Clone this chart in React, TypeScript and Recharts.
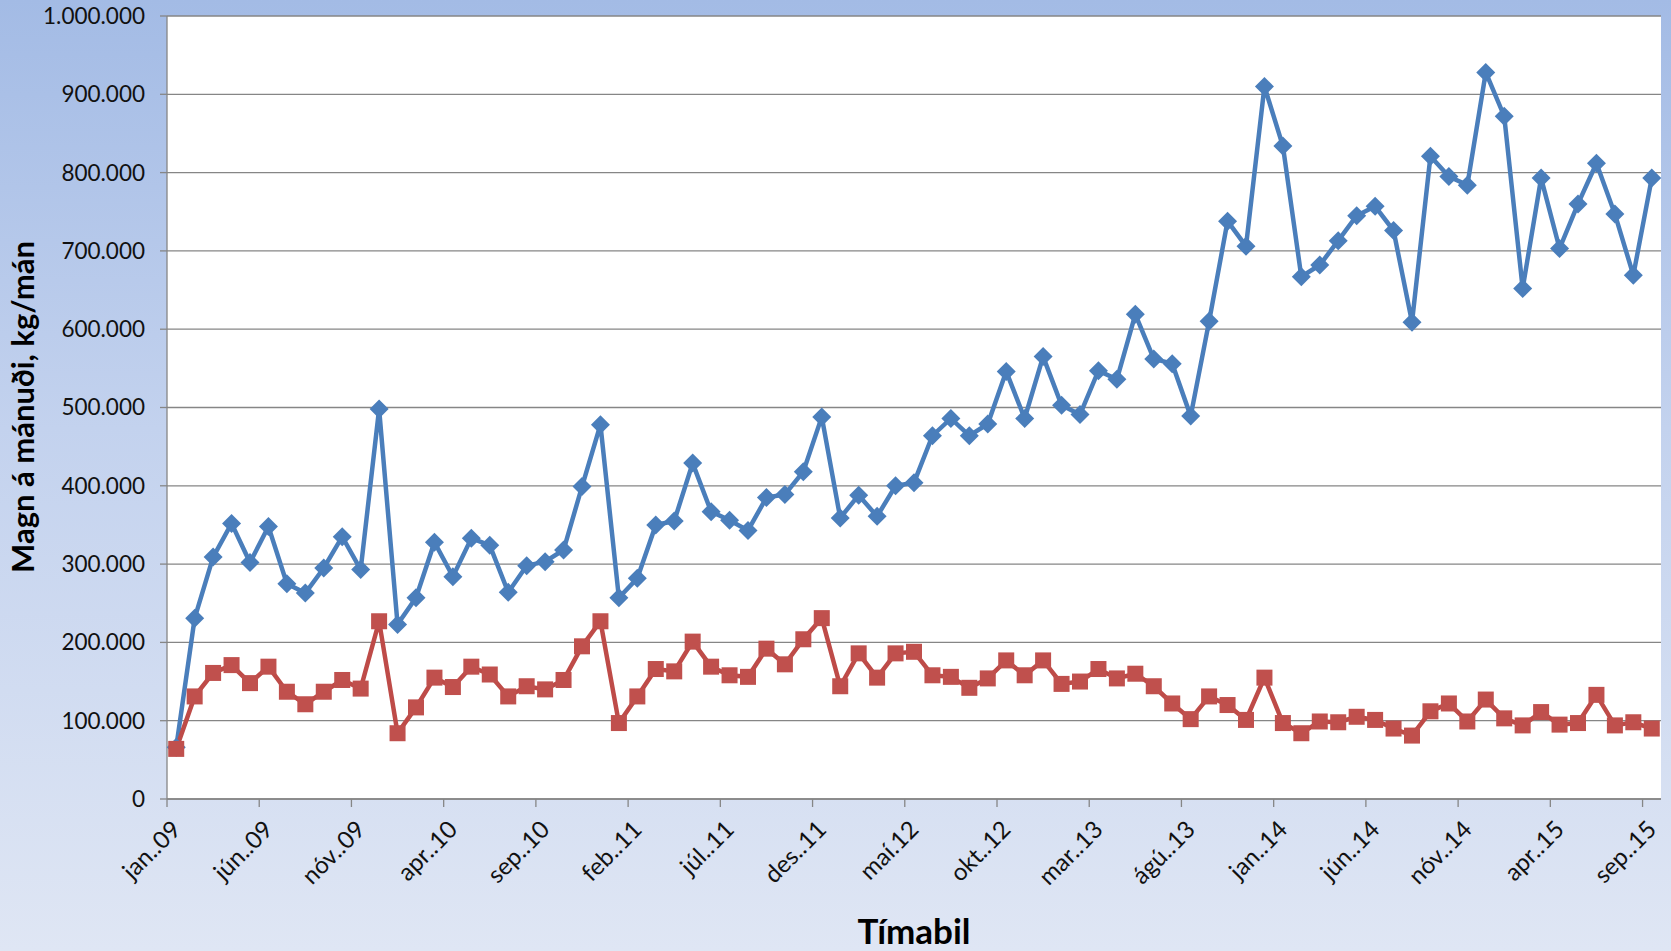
import React from 'react';
import { LineChart, Line, XAxis, YAxis, CartesianGrid, Label } from 'recharts';

const months: string[] = [
  'jan..09', 'feb..09', 'mar..09', 'apr..09', 'maí.09', 'jún..09', 'júl..09', 'ágú..09', 'sep..09', 'okt..09', 'nóv..09', 'des..09',
  'jan..10', 'feb..10', 'mar..10', 'apr..10', 'maí.10', 'jún..10', 'júl..10', 'ágú..10', 'sep..10', 'okt..10', 'nóv..10', 'des..10',
  'jan..11', 'feb..11', 'mar..11', 'apr..11', 'maí.11', 'jún..11', 'júl..11', 'ágú..11', 'sep..11', 'okt..11', 'nóv..11', 'des..11',
  'jan..12', 'feb..12', 'mar..12', 'apr..12', 'maí.12', 'jún..12', 'júl..12', 'ágú..12', 'sep..12', 'okt..12', 'nóv..12', 'des..12',
  'jan..13', 'feb..13', 'mar..13', 'apr..13', 'maí.13', 'jún..13', 'júl..13', 'ágú..13', 'sep..13', 'okt..13', 'nóv..13', 'des..13',
  'jan..14', 'feb..14', 'mar..14', 'apr..14', 'maí.14', 'jún..14', 'júl..14', 'ágú..14', 'sep..14', 'okt..14', 'nóv..14', 'des..14',
  'jan..15', 'feb..15', 'mar..15', 'apr..15', 'maí.15', 'jún..15', 'júl..15', 'ágú..15', 'sep..15',
];

const blueSeries: number[] = [
  66000, 231000, 309000, 352000, 302000, 348000, 275000, 263000, 295000, 335000,
  293000, 498000, 223000, 257000, 328000, 284000, 333000, 324000, 264000, 298000,
  303000, 318000, 399000, 478000, 257000, 282000, 350000, 355000, 429000, 367000,
  356000, 343000, 385000, 389000, 418000, 488000, 359000, 388000, 361000, 400000,
  404000, 464000, 486000, 464000, 479000, 546000, 486000, 565000, 503000, 491000,
  547000, 536000, 619000, 562000, 556000, 489000, 610000, 738000, 706000, 910000,
  834000, 667000, 682000, 713000, 745000, 757000, 726000, 609000, 821000, 795000,
  784000, 928000, 872000, 652000, 793000, 703000, 760000, 812000, 747000, 669000,
  793000,
];

const redSeries: number[] = [
  64000, 131000, 161000, 171000, 148000, 169000, 137000, 121000, 137000, 152000,
  141000, 227000, 84000, 117000, 155000, 143000, 169000, 159000, 131000, 144000,
  140000, 152000, 195000, 227000, 97000, 131000, 166000, 163000, 201000, 169000,
  158000, 156000, 192000, 172000, 204000, 231000, 144000, 186000, 155000, 186000,
  188000, 158000, 156000, 142000, 154000, 177000, 158000, 177000, 147000, 150000,
  166000, 154000, 160000, 144000, 122000, 102000, 131000, 120000, 101000, 155000,
  97000, 84000, 99000, 98000, 105000, 101000, 90000, 81000, 112000, 122000,
  99000, 127000, 103000, 94000, 111000, 95000, 97000, 133000, 94000, 98000,
  90000,
];

const yTicks: number[] = [0, 100000, 200000, 300000, 400000, 500000, 600000, 700000, 800000, 900000, 1000000];

const data = months.map((m, i) => ({ month: m, blue: blueSeries[i], red: redSeries[i] }));

const W = 1671;
const H = 951;
const PLOT_LEFT = 167;
const PLOT_RIGHT = 1661;
const PLOT_TOP = 16;
const PLOT_BOTTOM = 799;
const BAND = (PLOT_RIGHT - PLOT_LEFT) / months.length;
const FONT = 'Lato, "Open Sans", sans-serif';
const AXIS_GRAY = '#868686';
const BLUE = '#4A7EBB';
const RED = '#BE4B48';

const fmt = (v: number) => String(v).replace(/\B(?=(\d{3})+(?!\d))/g, '.');

const XTick = (props: any) => {
  const { x, y, payload } = props;
  const tx = x + 6;
  const ty = y + 32;
  return (
    <g>
      <line x1={x - BAND / 2} x2={x - BAND / 2} y1={y} y2={y + 8} stroke={AXIS_GRAY} strokeWidth={1.3} />
      <text
        x={tx}
        y={ty}
        transform={`rotate(-45, ${tx}, ${ty})`}
        textAnchor="end"
        fontFamily={FONT}
        fontSize={24}
        fill="#111"
      >
        {payload.value}
      </text>
    </g>
  );
};

const Diamond = (props: any) => {
  const { cx, cy, index } = props;
  if (cx == null || cy == null) return <g key={`d${index}`} />;
  const r = 9.5;
  return (
    <polygon
      key={`d${index}`}
      points={`${cx},${cy - r} ${cx + r},${cy} ${cx},${cy + r} ${cx - r},${cy}`}
      fill={BLUE}
      stroke="none"
    />
  );
};

const Square = (props: any) => {
  const { cx, cy, index } = props;
  if (cx == null || cy == null) return <g key={`s${index}`} />;
  const s = 16;
  return <rect key={`s${index}`} x={cx - s / 2} y={cy - s / 2} width={s} height={s} fill="#C0504D" stroke="none" />;
};

export default function App() {
  return (
    <div
      style={{
        position: 'absolute',
        left: 0,
        top: 0,
        width: W,
        height: H,
        background: 'linear-gradient(to bottom, #A3BBE5 0%, #C3D2EE 45%, #DFE6F4 100%)',
      }}
    >
      <LineChart
        width={W}
        height={H}
        data={data}
        margin={{ top: PLOT_TOP, right: W - PLOT_RIGHT, bottom: 0, left: 0 }}
      >
        <CartesianGrid vertical={false} stroke={AXIS_GRAY} strokeWidth={1.3} fill="#FFFFFF" fillOpacity={1} />
        <XAxis
          dataKey="month"
          scale="band"
          interval={4}
          height={H - PLOT_BOTTOM}
          tickSize={0}
          tickMargin={0}
          tickLine={false}
          axisLine={{ stroke: AXIS_GRAY, strokeWidth: 1.3 }}
          tick={<XTick />}
        >
          <Label
            content={() => (
              <text x={(PLOT_LEFT + PLOT_RIGHT) / 2} y={944} textAnchor="middle" fontFamily={FONT} fontWeight={700} fontSize={35} fill="#000">
                Tímabil
              </text>
            )}
          />
        </XAxis>
        <YAxis
          width={PLOT_LEFT}
          domain={[0, 1000000]}
          ticks={yTicks}
          interval={0}
          tickFormatter={fmt}
          tickSize={7}
          tickMargin={15}
          tickLine={{ stroke: AXIS_GRAY, strokeWidth: 1.3 }}
          axisLine={{ stroke: AXIS_GRAY, strokeWidth: 1.3 }}
          tick={{ fontFamily: FONT, fontSize: 22.5, fill: '#111' }}
        >
          <Label
            content={() => (
              <text
                x={34}
                y={407}
                transform="rotate(-90, 34, 407)"
                textAnchor="middle"
                fontFamily={FONT}
                fontWeight={700}
                fontSize={31}
                fill="#000"
              >
                Magn á mánuði, kg/mán
              </text>
            )}
          />
        </YAxis>
        <Line
          type="linear"
          dataKey="blue"
          stroke={BLUE}
          strokeWidth={4.5}
          dot={(p: any) => <Diamond key={`d${p.index}`} {...p} />}
          activeDot={false}
          isAnimationActive={false}
        />
        <Line
          type="linear"
          dataKey="red"
          stroke={RED}
          strokeWidth={4.5}
          dot={(p: any) => <Square key={`s${p.index}`} {...p} />}
          activeDot={false}
          isAnimationActive={false}
        />
      </LineChart>
    </div>
  );
}
